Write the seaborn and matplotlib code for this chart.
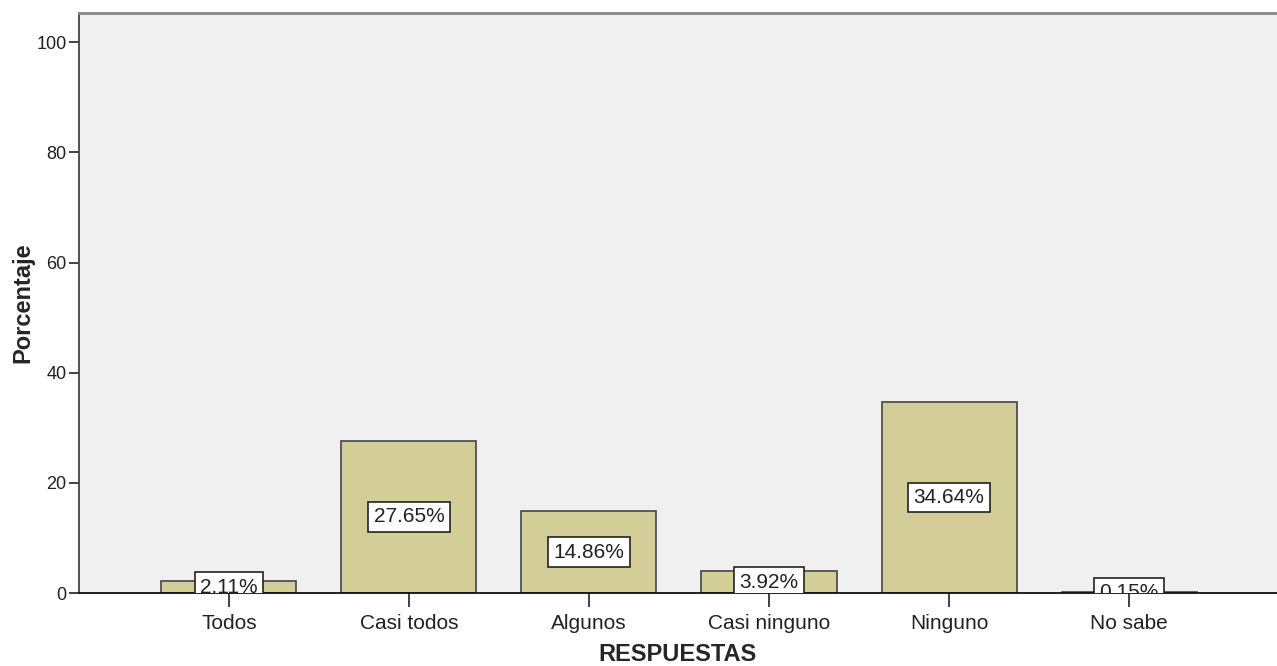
import seaborn as sns
import matplotlib.pyplot as plt
import pandas as pd

# Respuestas y porcentajes
categorias = ['Todos', 'Casi todos', 'Algunos', 'Casi ninguno', 'Ninguno', 'No sabe']
porcentajes = [2.11, 27.65, 14.86, 3.92, 34.64, 0.15]
y_ticks = [0, 20, 40, 60, 80, 100]

df = pd.DataFrame({'RESPUESTAS': categorias, 'Porcentaje': porcentajes})

sns.set_style('ticks')
plt.rcParams['font.family'] = ['Liberation Sans', 'DejaVu Sans']

fig = plt.figure(figsize=(12.77, 6.66), dpi=100)
ax = fig.add_axes([79 / 1277, 73 / 666, 1 - 79 / 1277, 580 / 666])
ax.set_facecolor('#f0f0f0')

sns.barplot(data=df, x='RESPUESTAS', y='Porcentaje', color='#d3ce97',
            width=0.75, edgecolor='#444444', linewidth=1.2, saturation=1, ax=ax)

# etiquetas de valor en el centro de cada barra
for i, v in enumerate(porcentajes):
    ax.text(i, v / 2, f'{v:.2f}%', ha='center', va='center', fontsize=15,
            color='#222222', clip_on=True,
            bbox=dict(boxstyle='square,pad=0.25', facecolor='white',
                      edgecolor='#222222', linewidth=1.2))

ax.set_xlim(-0.833, 5.822)
ax.set_ylim(0, 105.3)
ax.set_yticks(y_ticks)
ax.set_yticklabels([str(t) for t in y_ticks])

ax.tick_params(axis='x', length=10, width=1.3, color='#333333', labelsize=15,
               labelcolor='#222222', pad=5)
ax.tick_params(axis='y', length=7, width=1.3, color='#333333', labelsize=13,
               labelcolor='#222222', pad=2)

ax.set_xlabel('RESPUESTAS', fontsize=17, fontweight='bold', labelpad=7)
ax.set_ylabel('Porcentaje', fontsize=17, fontweight='bold', labelpad=1)

ax.spines['right'].set_visible(False)
ax.spines['top'].set_color('#888888')
ax.spines['top'].set_linewidth(2)
ax.spines['left'].set_color('#444444')
ax.spines['left'].set_linewidth(1.3)
ax.spines['bottom'].set_color('#111111')
ax.spines['bottom'].set_linewidth(1.3)

plt.savefig('out.png', dpi=100)
plt.close()
